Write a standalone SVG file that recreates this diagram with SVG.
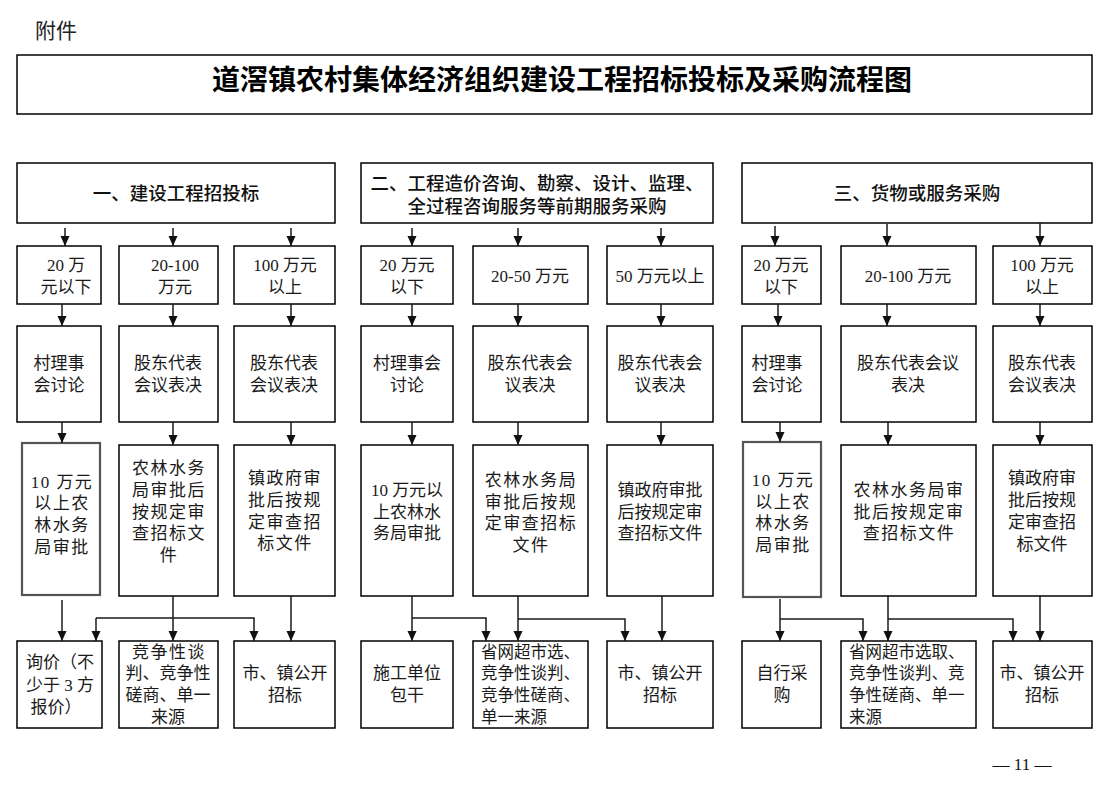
<svg xmlns="http://www.w3.org/2000/svg" width="1116" height="800" viewBox="0 0 1116 800">
<style>
.bx{fill:#fff;stroke:#000;stroke-width:1.5}
.gb{fill:#fff;stroke:#555;stroke-width:2.2}
.t{font-family:"Liberation Serif","Noto Sans CJK SC",serif;font-size:17px;fill:#1a1a1a;text-anchor:middle}
.tl{font-family:"Liberation Serif","Noto Sans CJK SC",serif;font-size:16.5px;fill:#1a1a1a}
.h{font-family:"Liberation Serif","Noto Sans CJK SC",serif;font-size:18.5px;fill:#111;text-anchor:middle;font-weight:500}
.sp{letter-spacing:1.5px}
.c{fill:none;stroke:#1a1a1a;stroke-width:1.5}
</style>
<defs>
<marker id="ah" viewBox="0 0 10 10" refX="10" refY="5" markerWidth="10" markerHeight="10" orient="auto" markerUnits="userSpaceOnUse">
<path d="M0,0.5 L10,5 L0,9.5 z" fill="#111"/>
</marker>
</defs>
<rect width="1116" height="800" fill="#fff"/>
<text x="35" y="38" style="font-family:'Noto Sans CJK SC',sans-serif;font-size:21px;fill:#222">附件</text>
<g id="title">
<rect x="17" y="55" width="1075" height="59" class="bx"/>
<text x="562" y="90" style="font-family:'Noto Sans CJK SC',sans-serif;font-size:28px;font-weight:700;fill:#000;text-anchor:middle">道滘镇农村集体经济组织建设工程招标投标及采购流程图</text>
</g>
<g id="h1"><rect x="17" y="163" width="318" height="60" class="bx"/><text class="h" x="176" y="200">一、建设工程招投标</text></g>
<g id="h2"><rect x="361" y="163" width="352" height="60" class="bx"/><text class="h" x="537" y="190">二、工程造价咨询、勘察、设计、监理、</text><text class="h" x="537" y="213">全过程咨询服务等前期服务采购</text></g>
<g id="h3"><rect x="742" y="163" width="350" height="60" class="bx"/><text class="h" x="917" y="200">三、货物或服务采购</text></g>
<g id="r2c1a"><rect x="17" y="246" width="84" height="58" class="bx"/><text class="t" x="66" y="271">20 万</text><text class="t" x="66" y="293">元以下</text></g>
<g id="r2c1b"><rect x="119" y="246" width="99" height="58" class="bx"/><text class="t" x="175" y="271">20-100</text><text class="t" x="175" y="293">万元</text></g>
<g id="r2c1c"><rect x="234" y="246" width="101" height="58" class="bx"/><text class="t" x="285" y="271">100 万元</text><text class="t" x="285" y="293">以上</text></g>
<g id="r2c2a"><rect x="361" y="246" width="92" height="58" class="bx"/><text class="t" x="407" y="271">20 万元</text><text class="t" x="407" y="293">以下</text></g>
<g id="r2c2b"><rect x="473" y="246" width="115" height="58" class="bx"/><text class="t" x="530" y="282">20-50 万元</text></g>
<g id="r2c2c"><rect x="607" y="246" width="106" height="58" class="bx"/><text class="t" x="660" y="282">50 万元以上</text></g>
<g id="r2c3a"><rect x="742" y="246" width="79" height="58" class="bx"/><text class="t" x="781" y="271">20 万元</text><text class="t" x="781" y="293">以下</text></g>
<g id="r2c3b"><rect x="841" y="246" width="135" height="58" class="bx"/><text class="t" x="908" y="282">20-100 万元</text></g>
<g id="r2c3c"><rect x="993" y="246" width="99" height="58" class="bx"/><text class="t" x="1042" y="271">100 万元</text><text class="t" x="1042" y="293">以上</text></g>
<g id="r3c1a"><rect x="17" y="326" width="84" height="96" class="bx"/><text class="t" x="59" y="369">村理事</text><text class="t" x="59" y="391">会讨论</text></g>
<g id="r3c1b"><rect x="119" y="326" width="99" height="96" class="bx"/><text class="t" x="168" y="369">股东代表</text><text class="t" x="168" y="391">会议表决</text></g>
<g id="r3c1c"><rect x="234" y="326" width="101" height="96" class="bx"/><text class="t" x="284" y="369">股东代表</text><text class="t" x="284" y="391">会议表决</text></g>
<g id="r3c2a"><rect x="361" y="326" width="92" height="96" class="bx"/><text class="t" x="407" y="369">村理事会</text><text class="t" x="407" y="391">讨论</text></g>
<g id="r3c2b"><rect x="473" y="326" width="115" height="96" class="bx"/><text class="t" x="530" y="369">股东代表会</text><text class="t" x="530" y="391">议表决</text></g>
<g id="r3c2c"><rect x="607" y="326" width="106" height="96" class="bx"/><text class="t" x="660" y="369">股东代表会</text><text class="t" x="660" y="391">议表决</text></g>
<g id="r3c3a"><rect x="742" y="326" width="79" height="96" class="bx"/><text class="t" x="777" y="369">村理事</text><text class="t" x="777" y="391">会讨论</text></g>
<g id="r3c3b"><rect x="841" y="326" width="135" height="96" class="bx"/><text class="t" x="908" y="369">股东代表会议</text><text class="t" x="908" y="391">表决</text></g>
<g id="r3c3c"><rect x="993" y="326" width="99" height="96" class="bx"/><text class="t" x="1042" y="369">股东代表</text><text class="t" x="1042" y="391">会议表决</text></g>
<g id="r4c1a"><rect x="22" y="443" width="78" height="152" class="gb"/><text class="t sp" x="62" y="488">10 万元</text><text class="t sp" x="62" y="509">以上农</text><text class="t sp" x="62" y="531">林水务</text><text class="t sp" x="62" y="553">局审批</text></g>
<g id="r4c1b"><rect x="119" y="445" width="99" height="151" class="bx"/><text class="t sp" x="169" y="474">农林水务</text><text class="t sp" x="169" y="496">局审批后</text><text class="t sp" x="169" y="518">按规定审</text><text class="t sp" x="169" y="539">查招标文</text><text class="t sp" x="169" y="561">件</text></g>
<g id="r4c1c"><rect x="234" y="445" width="101" height="151" class="bx"/><text class="t sp" x="285" y="484">镇政府审</text><text class="t sp" x="285" y="506">批后按规</text><text class="t sp" x="285" y="528">定审查招</text><text class="t sp" x="285" y="549">标文件</text></g>
<g id="r4c2a"><rect x="361" y="445" width="92" height="151" class="bx"/><text class="t" x="407" y="496">10 万元以</text><text class="t" x="407" y="518">上农林水</text><text class="t" x="407" y="539">务局审批</text></g>
<g id="r4c2b"><rect x="473" y="445" width="115" height="151" class="bx"/><text class="t sp" x="531" y="486">农林水务局</text><text class="t sp" x="531" y="508">审批后按规</text><text class="t sp" x="531" y="529">定审查招标</text><text class="t sp" x="531" y="551">文件</text></g>
<g id="r4c2c"><rect x="607" y="445" width="106" height="151" class="bx"/><text class="t" x="660" y="496">镇政府审批</text><text class="t" x="660" y="518">后按规定审</text><text class="t" x="660" y="539">查招标文件</text></g>
<g id="r4c3a"><rect x="743" y="442" width="78" height="155" class="gb"/><text class="t sp" x="783" y="486">10 万元</text><text class="t sp" x="783" y="508">以上农</text><text class="t sp" x="783" y="529">林水务</text><text class="t sp" x="783" y="551">局审批</text></g>
<g id="r4c3b"><rect x="841" y="445" width="135" height="151" class="bx"/><text class="t sp" x="909" y="496">农林水务局审</text><text class="t sp" x="909" y="518">批后按规定审</text><text class="t sp" x="909" y="539">查招标文件</text></g>
<g id="r4c3c"><rect x="993" y="445" width="99" height="151" class="bx"/><text class="t" x="1042" y="484">镇政府审</text><text class="t" x="1042" y="506">批后按规</text><text class="t" x="1042" y="528">定审查招</text><text class="t" x="1042" y="550">标文件</text></g>
<g id="r5c1a"><rect x="17" y="641" width="85" height="87" class="bx"/><text class="t" x="60" y="668">询价（不</text><text class="t" x="60" y="691">少于 3 方</text><text class="t" x="56" y="713">报价）</text></g>
<g id="r5c1b"><rect x="119" y="641" width="99" height="87" class="bx"/><text class="t sp" x="169" y="658">竞争性谈</text><text class="t" x="168" y="679">判、竞争性</text><text class="t" x="168" y="701">磋商、单一</text><text class="t" x="168" y="723">来源</text></g>
<g id="r5c1c"><rect x="234" y="641" width="101" height="87" class="bx"/><text class="t" x="285" y="679">市、镇公开</text><text class="t" x="285" y="701">招标</text></g>
<g id="r5c2a"><rect x="361" y="641" width="92" height="87" class="bx"/><text class="t" x="407" y="679">施工单位</text><text class="t" x="407" y="701">包干</text></g>
<g id="r5c2b"><rect x="473" y="641" width="115" height="87" class="bx"/><text class="tl" x="481" y="658">省网超市选、</text><text class="tl" x="481" y="679">竞争性谈判、</text><text class="tl" x="481" y="701">竞争性磋商、</text><text class="tl" x="481" y="723">单一来源</text></g>
<g id="r5c2c"><rect x="607" y="641" width="106" height="87" class="bx"/><text class="t" x="660" y="679">市、镇公开</text><text class="t" x="660" y="701">招标</text></g>
<g id="r5c3a"><rect x="742" y="641" width="79" height="87" class="bx"/><text class="t" x="782" y="679">自行采</text><text class="t" x="782" y="701">购</text></g>
<g id="r5c3b"><rect x="841" y="641" width="135" height="87" class="bx"/><text class="tl" x="849" y="658">省网超市选取、</text><text class="tl" x="849" y="679">竞争性谈判、竞</text><text class="tl" x="849" y="701">争性磋商、单一</text><text class="tl" x="849" y="723">来源</text></g>
<g id="r5c3c"><rect x="993" y="641" width="99" height="87" class="bx"/><text class="t" x="1042" y="679">市、镇公开</text><text class="t" x="1042" y="701">招标</text></g>
<g id="connectors" class="c">
<path d="M65,228 V246" marker-end="url(#ah)"/>
<path d="M173,228 V246" marker-end="url(#ah)"/>
<path d="M291,228 V246" marker-end="url(#ah)"/>
<path d="M412,228 V246" marker-end="url(#ah)"/>
<path d="M518,228 V246" marker-end="url(#ah)"/>
<path d="M661,228 V246" marker-end="url(#ah)"/>
<path d="M775,226 V246" marker-end="url(#ah)"/>
<path d="M887,224 V246" marker-end="url(#ah)"/>
<path d="M1040,223 V246" marker-end="url(#ah)"/>
<path d="M62,304 V326" marker-end="url(#ah)"/>
<path d="M173,304 V326" marker-end="url(#ah)"/>
<path d="M291,304 V326" marker-end="url(#ah)"/>
<path d="M412,304 V326" marker-end="url(#ah)"/>
<path d="M518,304 V326" marker-end="url(#ah)"/>
<path d="M661,304 V326" marker-end="url(#ah)"/>
<path d="M778,304 V326" marker-end="url(#ah)"/>
<path d="M887,304 V326" marker-end="url(#ah)"/>
<path d="M1040,304 V326" marker-end="url(#ah)"/>
<path d="M62,422 V443" marker-end="url(#ah)"/>
<path d="M173,422 V445" marker-end="url(#ah)"/>
<path d="M291,422 V445" marker-end="url(#ah)"/>
<path d="M412,422 V445" marker-end="url(#ah)"/>
<path d="M518,422 V445" marker-end="url(#ah)"/>
<path d="M661,422 V445" marker-end="url(#ah)"/>
<path d="M780,422 V442" marker-end="url(#ah)"/>
<path d="M888,422 V445" marker-end="url(#ah)"/>
<path d="M1040,422 V445" marker-end="url(#ah)"/>
<path d="M62,600 V641" marker-end="url(#ah)"/>
<path d="M173,596 V641" marker-end="url(#ah)"/>
<path d="M96,618 H254 V641" marker-end="url(#ah)"/>
<path d="M96,618 V641" marker-end="url(#ah)"/>
<path d="M291,596 V641" marker-end="url(#ah)"/>
<path d="M412,596 V641" marker-end="url(#ah)"/>
<path d="M412,618 H486 V641" marker-end="url(#ah)"/>
<path d="M518,596 V641" marker-end="url(#ah)"/>
<path d="M518,619 H625 V641" marker-end="url(#ah)"/>
<path d="M662,596 V641" marker-end="url(#ah)"/>
<path d="M780,599 V641" marker-end="url(#ah)"/>
<path d="M780,619 H863 V641" marker-end="url(#ah)"/>
<path d="M888,596 V641" marker-end="url(#ah)"/>
<path d="M888,619 H1013 V641" marker-end="url(#ah)"/>
<path d="M1040,596 V641" marker-end="url(#ah)"/>
</g>
<text x="1022" y="770" style="font-family:'Liberation Serif',serif;font-size:17px;fill:#111;text-anchor:middle">— 11 —</text>
</svg>
